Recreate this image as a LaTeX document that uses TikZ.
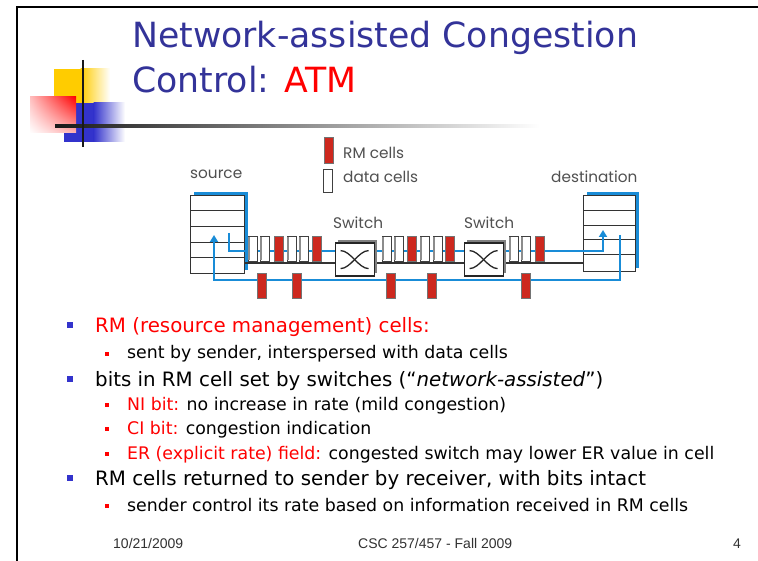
\documentclass[tikz,border=0pt]{standalone}
\usepackage{fontspec}
\setmainfont{DejaVu Sans}
\newfontfamily\labfont{Poppins}
\newfontfamily\footfont{Liberation Sans}
\usetikzlibrary{arrows.meta,shadows,shadings}
\definecolor{titleblue}{RGB}{51,51,153}
\definecolor{bulblue}{RGB}{51,51,204}
\definecolor{linkblue}{RGB}{25,140,215}
\definecolor{cellred}{RGB}{205,40,30}
\definecolor{labgray}{RGB}{80,80,80}
\definecolor{decoyellow}{RGB}{255,204,0}
\definecolor{decoblue}{RGB}{51,51,204}
\definecolor{footgray}{RGB}{50,50,50}
\tikzset{
  cellw/.style={draw=black!75, fill=white, line width=0.7pt},
  cellr/.style={draw=black!55, fill=cellred, line width=0.5pt},
  stackbox/.style={draw=black!80, fill=white, line width=1pt, inner sep=0,
    general shadow={shadow xshift=3pt, shadow yshift=3pt, fill=linkblue}},
  switchbox/.style={draw=black!85, fill=white, line width=1.2pt, inner sep=0,
    minimum width=39pt, minimum height=33pt,
    general shadow={shadow xshift=3pt, shadow yshift=3pt, fill=black!50}},
  blueline/.style={draw=linkblue, line width=2pt},
  blackline/.style={draw=black!80, line width=1.2pt},
  labtxt/.style={anchor=base west, inner sep=0, text=labgray, font=\labfont\fontsize{15.3}{17}\selectfont},
  titletxt/.style={anchor=base west, inner sep=0, text=titleblue, font=\fontsize{34.7}{40}\selectfont},
  maintxt/.style={anchor=base west, inner sep=0, font=\fontsize{19.8}{22}\selectfont},
  subtxt/.style={anchor=base west, inner sep=0, font=\fontsize{17.35}{20}\selectfont},
  foottxt/.style={anchor=base west, inner sep=0, text=footgray, font=\footfont\fontsize{14}{16}\selectfont},
  mainbul/.style={fill=bulblue, minimum size=6pt, inner sep=0},
  subbul/.style={fill=red, minimum size=4.5pt, inner sep=0},
}
\begin{document}
\begin{tikzpicture}[x=1pt,y=-1pt]
\useasboundingbox (0,0) rectangle (758,561);
\fill[white] (0,0) rectangle (758,561);
% frame
\draw[line width=2pt, black] (16,7.5) -- (758,7.5);
\draw[line width=2.5pt, black] (17,6.5) -- (17,561);
% decoration
\fill[decoyellow] (54,69) rectangle (81,103);
\shade[left color=decoyellow, right color=white] (80.5,69) rectangle (110,103);
\fill[decoblue] (64,103) rectangle (94,142);
\shade[left color=decoblue, right color=white] (93.5,103) rectangle (125,142);
\shade[upper left=red!25, upper right=red, lower right=red!30, lower left=white] (30,97) rectangle (76,133);
\shade[left color=black!90, right color=white] (55,124.8) rectangle (540,127.2);
\draw[line width=2.5pt, black!90] (83,60) -- (83,147);
% title
\node[titletxt] (title1) at (132,48) {Network-assisted Congestion};
\node[titletxt] (title2) at (132,93) {Control: \textcolor{red}{ATM}};

% ---------------- diagram ----------------
% legend
\node[labtxt] (srclab) at (190,179) {source};
\node[labtxt] (dstlab) at (551,183) {destination};
\filldraw[cellr] (324,137) rectangle (333,163);
\node[labtxt] (rmlab) at (343,159) {RM cells};
\filldraw[cellw] (323.5,169) rectangle (332.5,192);
\node[labtxt] (datalab) at (343,183) {data cells};

% rows for connectors
\coordinate (fwdrow) at (0,251);
\coordinate (blkrow) at (0,263);
\coordinate (retrow) at (0,280);

% stacks
\node[stackbox, minimum width=54pt, minimum height=78pt, anchor=north west] (src) at (190,195) {};
\foreach \yy in {210.5,226.5,242.5,258} \draw[black!80, line width=1pt] (190,\yy) -- (244,\yy);
\node[stackbox, minimum width=52pt, minimum height=76pt, anchor=north west] (dst) at (583,195) {};
\foreach \yy in {211,225.5,240,255} \draw[black!80, line width=1pt] (583,\yy) -- (635,\yy);

% switches
\node[labtxt] (sw1lab) at (333,229) {Switch};
\node[labtxt] (sw2lab) at (464,229) {Switch};
\node[switchbox, anchor=north west] (sw1) at (334.5,242.5) {};
\node[switchbox, anchor=north west] (sw2) at (463.5,242.5) {};

% black link
\draw[blackline] (src.east |- blkrow) -- (sw1.west |- blkrow);
\draw[blackline] (sw1.east |- blkrow) -- (sw2.west |- blkrow);
\draw[blackline] (sw2.east |- blkrow) -- (dst.west |- blkrow);

% forward blue path
\coordinate (fwdstart) at (229,233);
\coordinate (fwdend) at (603,230);
\draw[blueline, -{Triangle[length=7pt,width=8pt]}] (fwdstart) -- (fwdstart |- fwdrow) -- (fwdend |- fwdrow) -- (fwdend);
% return blue path
\coordinate (retstart) at (620,235);
\coordinate (retend) at (214,235);
\draw[blueline, -{Triangle[length=7pt,width=8pt]}] (retstart) -- (retstart |- retrow) -- (retend |- retrow) -- (retend);

% redraw switches over the blue line
\node[switchbox, anchor=north west] at (334.5,242.5) {};
\node[switchbox, anchor=north west] at (463.5,242.5) {};
\foreach \s in {sw1,sw2}{
  \draw[black!85, line width=1.3pt] ([shift={(-14,-9)}]\s.center) .. controls ([shift={(-4,-9)}]\s.center) and ([shift={(4,9)}]\s.center) .. ([shift={(14,9)}]\s.center);
  \draw[black!85, line width=1.3pt] ([shift={(-14,9)}]\s.center) .. controls ([shift={(-4,9)}]\s.center) and ([shift={(4,-9)}]\s.center) .. ([shift={(14,-9)}]\s.center);
}

% forward cells
\foreach \xx/\kind in {248/w,260/w,274/r,287/w,299/w,312/r,382/w,394/w,407/r,420/w,433/w,445/r,509/w,521/w,535/r}{
  \if\kind w
    \filldraw[cellw] (\xx,236.5) rectangle (\xx+9,261);
    \draw[black!45, line width=1.5pt] (\xx+1.2,237.5) -- (\xx+1.2,260);
  \else
    \filldraw[cellr] (\xx,236.5) rectangle (\xx+9,261);
  \fi
}
% returning RM cells
\foreach \xx in {257,292,386,427,521}
  \filldraw[cellr] (\xx,273) rectangle (\xx+9.5,298);

% ---------------- bullets ----------------
\node[mainbul] (b1) at (70,325.5) {};
\node[maintxt, text=red] (t1) at (95,333) {RM (resource management) cells:};
\node[subbul] (b2) at (107,354) {};
\node[subtxt] (t2) at (127,359) {sent by sender, interspersed with data cells};
\node[mainbul] (b3) at (70,379.5) {};
\node[maintxt] (t3) at (95,387) {bits in RM cell set by switches (“\textit{network-assisted}”)};
\node[subbul] (b4) at (107,405) {};
\node[subtxt] (t4) at (127,410) {\textcolor{red}{NI bit:} no increase in rate (mild congestion)};
\node[subbul] (b5) at (107,429) {};
\node[subtxt] (t5) at (127,434) {\textcolor{red}{CI bit:} congestion indication};
\node[subbul] (b6) at (107,454) {};
\node[subtxt] (t6) at (127,459) {\textcolor{red}{ER (explicit rate) field:} congested switch may lower ER value in cell};
\node[mainbul] (b7) at (70,477.5) {};
\node[maintxt] (t7) at (95,485) {RM cells returned to sender by receiver, with bits intact};
\node[subbul] (b8) at (107,506) {};
\node[subtxt] (t8) at (127,511) {sender control its rate based on information received in RM cells};

% footer
\node[foottxt] (fdate) at (113,548) {10/21/2009};
\node[foottxt] (fcourse) at (358,548) {CSC 257/457 - Fall 2009};
\node[foottxt] (fpage) at (733,548) {4};
\end{tikzpicture}
\end{document}
